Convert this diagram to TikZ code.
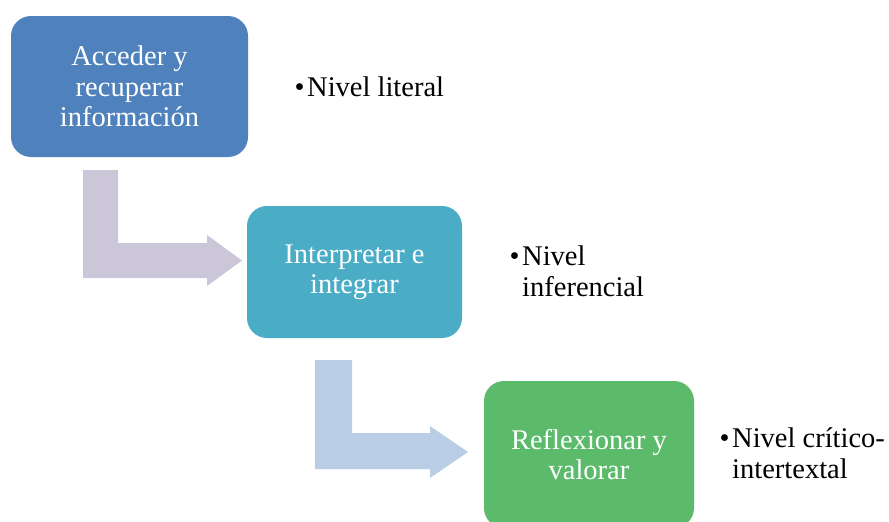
\documentclass[tikz,border=0pt]{standalone}
\usepackage{fontspec}
\setmainfont{Liberation Serif}
\definecolor{boxblue}{HTML}{4F81BD}
\definecolor{boxaqua}{HTML}{4BACC6}
\definecolor{boxgreen}{HTML}{5BBB6B}
\definecolor{arrowlilac}{HTML}{CCC6D9}
\definecolor{arrowblue}{HTML}{B9CDE5}
\tikzset{
  stagebox/.style={rectangle, rounded corners=20pt, draw=none, text=white,
    align=center, inner sep=0pt,
    font=\fontsize{28.5}{30.5}\selectfont},
  levelnote/.style={anchor=base west, align=left, inner sep=0pt,
    font=\fontsize{28.5}{30.5}\selectfont},
}
\newcommand{\bul}{\llap{•\hspace{2.5pt}}}
\begin{document}
\begin{tikzpicture}[x=1pt,y=-1pt]
\useasboundingbox (0,0) rectangle (889,522);
\begin{scope}
\clip (0,0) rectangle (889,522);

% bent arrows between the stages
\fill[arrowlilac] (83,170) -- (118,170) -- (118,243) -- (207,243) -- (207,235)
  -- (242,260.5) -- (207,286) -- (207,278) -- (83,278) -- cycle;
\fill[arrowblue] (315,360) -- (352,360) -- (352,433) -- (430,433) -- (430,426)
  -- (468,452) -- (430,478) -- (430,469) -- (315,469) -- cycle;

% stages
\node[stagebox, fill=boxblue, minimum width=237pt, minimum height=141pt]
  (s1) at (129.5,86.5) {Acceder y\\recuperar\\información};
\node[stagebox, fill=boxaqua, minimum width=215pt, minimum height=132pt]
  (s2) at (354.5,272) {Interpretar e\\integrar};
\node[stagebox, fill=boxgreen, minimum width=210pt, minimum height=147pt]
  (s3) at (589,454.5) {Reflexionar y\\valorar};
\end{scope}

% reading levels (anchored on the baseline of the last line)
\node[levelnote] (l1) at (307,96) {\bul Nivel literal};
\node[levelnote] (l2) at (522,296) {\bul Nivel\\inferencial};
\node[levelnote] (l3) at (732,478) {\bul Nivel crítico-\\intertextal};
\end{tikzpicture}
\end{document}
